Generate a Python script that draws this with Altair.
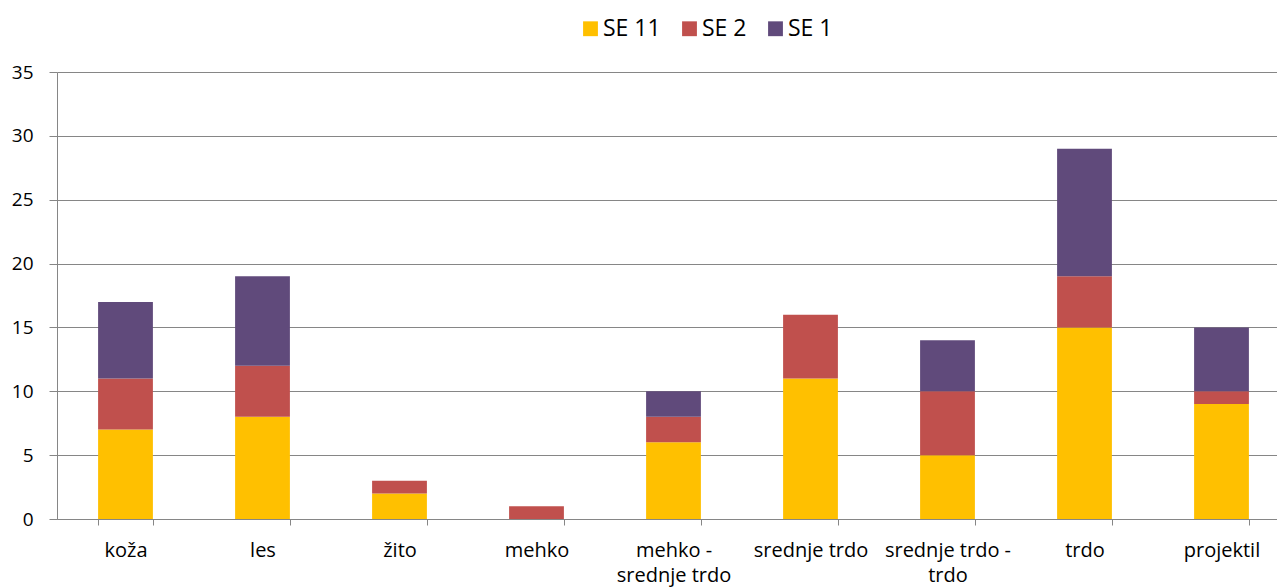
import altair as alt
import pandas as pd

categories = ["koža", "les", "žito", "mehko", "mehko - srednje trdo",
              "srednje trdo", "srednje trdo - trdo", "trdo", "projektil"]
series = ["SE 11", "SE 2", "SE 1"]
colors = ["#FFC000", "#C0504D", "#604A7B"]
se11 = [7, 8, 2, 0, 6, 11, 5, 15, 9]
se2 = [4, 4, 1, 1, 2, 5, 5, 4, 1]
se1 = [6, 7, 0, 0, 2, 0, 4, 10, 5]

rows = []
for name, vals in zip(series, [se11, se2, se1]):
    for c, v in zip(categories, vals):
        rows.append({"kategorija": c, "serija": name, "vrednost": v,
                     "red": series.index(name)})
df = pd.DataFrame(rows)

label_expr = ("indexof(datum.label, ' - ') > 0 ? "
              "[slice(datum.label, 0, indexof(datum.label, ' - ') + 2), "
              "slice(datum.label, indexof(datum.label, ' - ') + 3)] : datum.label")

chart = alt.Chart(df).mark_bar().encode(
    x=alt.X("kategorija:N", sort=categories, title=None,
            scale=alt.Scale(paddingInner=0.6, paddingOuter=0.3, range=[0, 1233]),
            axis=alt.Axis(labelAngle=0, labelExpr=label_expr, tickBand="extent",
                          tickSize=6, labelPadding=15, labelLineHeight=25,
                          labelFontSize=20, grid=False)),
    y=alt.Y("vrednost:Q", stack="zero", title=None,
            scale=alt.Scale(domain=[0, 35], nice=False),
            axis=alt.Axis(values=[0, 5, 10, 15, 20, 25, 30, 35], tickSize=8,
                          labelPadding=16, labelFontSize=19, grid=True)),
    color=alt.Color("serija:N", scale=alt.Scale(domain=series, range=colors),
                    legend=alt.Legend(title=None, orient="none", direction="horizontal",
                                      legendX=522, legendY=-55, symbolType="square",
                                      symbolSize=220, symbolStrokeWidth=0,
                                      labelFontSize=23, labelOffset=1,
                                      columnPadding=17)),
    order=alt.Order("red:Q", sort="ascending"),
).properties(
    width=1220, height=447,
    autosize=alt.AutoSizeParams(type="none"),
    padding={"left": 49, "top": 64, "right": 0, "bottom": 68},
).configure(
    font="Open Sans",
).configure_view(stroke=None).configure_axis(
    domainColor="#868686", tickColor="#868686", gridColor="#868686",
    domainWidth=1, tickWidth=1, gridWidth=1,
    labelColor="#000000", labelFont="Open Sans",
).configure_legend(labelColor="#000000", labelFont="Open Sans")

chart.save("out.html", embed_options={"renderer": "svg", "actions": False})
